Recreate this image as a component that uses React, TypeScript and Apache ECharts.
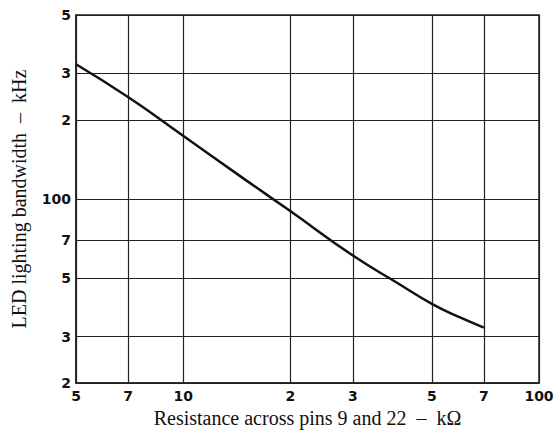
import React, { useEffect, useRef } from "react";
import * as echarts from "echarts";

const resistanceK = [5, 7, 10, 15, 20, 30, 40, 50, 60, 70];
const bandwidthKHz = [325, 244, 174, 118, 90, 61, 48, 40, 35.5, 32.5];

const xTicks = [5, 7, 10, 20, 30, 50, 70, 100];
const xTickLabels = ["5", "7", "10", "2", "3", "5", "7", "100"];
const yTicks = [20, 30, 50, 70, 100, 200, 300, 500];
const yTickLabels = ["2", "3", "5", "7", "100", "2", "3", "5"];

const labelFont = '"Liberation Sans Narrow", "DejaVu Sans", sans-serif';
const titleFont = '"Liberation Serif", "DejaVu Serif", serif';

export default function App() {
  const ref = useRef<HTMLDivElement>(null);
  useEffect(() => {
    if (!ref.current) return;
    const chart = echarts.init(ref.current, null, { renderer: "svg" });
    const lineCol = "#222";
    chart.setOption({
      animation: false,
      backgroundColor: "#fff",
      grid: {
        left: 76,
        right: 20,
        top: 15,
        bottom: 46,
        show: true,
        borderColor: lineCol,
        borderWidth: 1.5,
      },
      xAxis: {
        type: "log",
        logBase: 10,
        min: 5,
        max: 100,
        name: "Resistance across pins 9 and 22  –  kΩ",
        nameLocation: "middle",
        nameGap: 23,
        nameTextStyle: { fontFamily: titleFont, fontSize: 20, color: "#111" },
        axisLine: { show: true, lineStyle: { color: lineCol, width: 1.5 } },
        axisTick: { show: false, customValues: xTicks },
        splitLine: { show: true, lineStyle: { color: lineCol, width: 1.2 } },
        axisLabel: {
          customValues: xTicks,
          margin: 6,
          fontFamily: labelFont,
          fontWeight: "bold",
          fontSize: 14,
          color: "#111",
          formatter: (v: number) => {
            const i = xTicks.findIndex((t) => Math.abs(t - v) < 1e-6);
            return i >= 0 ? xTickLabels[i] : "";
          },
        },
      },
      yAxis: {
        type: "log",
        logBase: 10,
        min: 20,
        max: 500,
        name: "LED lighting bandwidth  –  kHz",
        nameLocation: "middle",
        nameGap: 47,
        nameTextStyle: { fontFamily: titleFont, fontSize: 20, color: "#111" },
        axisLine: { show: true, lineStyle: { color: lineCol, width: 1.5 } },
        axisTick: { show: false, customValues: yTicks },
        splitLine: { show: true, lineStyle: { color: lineCol, width: 1.2 } },
        axisLabel: {
          customValues: yTicks,
          margin: 5,
          fontFamily: labelFont,
          fontWeight: "bold",
          fontSize: 14,
          color: "#111",
          formatter: (v: number) => {
            const i = yTicks.findIndex((t) => Math.abs(t - v) < 1e-6);
            return i >= 0 ? yTickLabels[i] : "";
          },
        },
      },
      series: [
        {
          type: "line",
          data: resistanceK.map((x, i) => [x, bandwidthKHz[i]]),
          smooth: true,
          showSymbol: false,
          lineStyle: { color: "#111", width: 2.5 },
        },
      ],
    });
    return () => chart.dispose();
  }, []);
  return (
    <div
      ref={ref}
      style={{ position: "absolute", left: 0, top: 0, width: 559, height: 433 }}
    />
  );
}
